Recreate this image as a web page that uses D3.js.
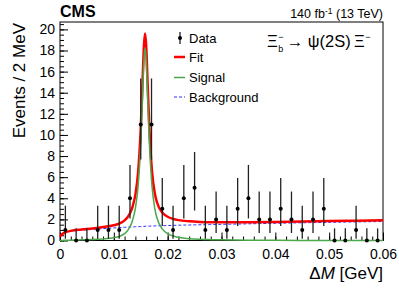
<!DOCTYPE html>
<html lang="en">
<head>
  <meta charset="UTF-8">
  <title>Xi_b to psi(2S) Xi mass difference</title>
  <script src="https://d3js.org/d3.v7.min.js"></script>
  <style>
    body { margin: 0; background: #fff; }
    text { font-family: "Liberation Sans", Arial, sans-serif; fill: #000; }
  </style>
</head>
<body>
  <div id="chart"></div>
  <script type="text/javascript">
    // data points: 2 MeV bins, counts with asymmetric poisson errors
    var binCenters = [0.001, 0.003, 0.005, 0.007, 0.009, 0.011, 0.013, 0.015, 0.017, 0.019,
                      0.021, 0.023, 0.025, 0.027, 0.029, 0.031, 0.033, 0.035, 0.037, 0.039,
                      0.041, 0.043, 0.045, 0.047, 0.049, 0.051, 0.053, 0.055, 0.057, 0.059];
    var counts = [1, 0, 0, 1, 1, 1, 4, 11, 11, 3,
                  1, 4, 5, 1, 2, 1, 3, 4, 2, 2,
                  3, 2, 1, 2, 3, 0, 0, 1, 0, 0];
    var errLo = [0.83, 0, 0, 0.83, 0.83, 0.83, 1.91, 3.33, 3.33, 1.63,
                 0.83, 1.91, 2.16, 0.83, 1.29, 0.83, 1.63, 1.91, 1.29, 1.29,
                 1.63, 1.29, 0.83, 1.29, 1.63, 0, 0, 0.83, 0, 0];
    var errHi = [2.30, 1.15, 1.15, 2.30, 2.30, 2.30, 3.16, 4.35, 4.35, 2.92,
                 2.30, 3.16, 3.38, 2.30, 2.64, 2.30, 2.92, 3.16, 2.64, 2.64,
                 2.92, 2.64, 2.30, 2.64, 2.92, 1.15, 1.15, 2.30, 1.15, 1.15];

    // fit curves
    var curveX = [0, 0.0005, 0.001, 0.002, 0.004, 0.006, 0.008, 0.010, 0.011, 0.012,
                  0.0125, 0.013, 0.0135, 0.014, 0.0145, 0.015, 0.0153, 0.0156, 0.0158, 0.016,
                  0.0163, 0.0166, 0.0171, 0.0176, 0.018, 0.019, 0.020, 0.021, 0.022, 0.024,
                  0.026, 0.028, 0.030, 0.035, 0.040, 0.045, 0.050, 0.055, 0.060];
    var signalY = [0, 0.01, 0.02, 0.03, 0.06, 0.09, 0.15, 0.26, 0.38, 0.65,
                   0.9, 1.3, 1.95, 3.05, 5.1, 9.3, 13.2, 17.2, 18.25, 17.2,
                   13.2, 9.3, 5.1, 3.05, 2.15, 1.1, 0.65, 0.42, 0.3, 0.17,
                   0.11, 0.08, 0.06, 0.03, 0.02, 0.01, 0.01, 0.01, 0.01];
    var backgroundY = [0.38, 0.62, 0.75, 0.88, 0.98, 1.05, 1.12, 1.19, 1.22, 1.25,
                       1.27, 1.28, 1.29, 1.30, 1.31, 1.32, 1.33, 1.34, 1.35, 1.35,
                       1.36, 1.36, 1.37, 1.38, 1.39, 1.40, 1.42, 1.43, 1.45, 1.47,
                       1.49, 1.51, 1.53, 1.58, 1.63, 1.68, 1.72, 1.76, 1.80];
    var fitY = [0.38, 0.63, 0.77, 0.91, 1.04, 1.14, 1.27, 1.45, 1.60, 1.90,
                2.17, 2.58, 3.24, 4.35, 6.41, 10.62, 14.53, 18.54, 19.6, 18.55,
                14.56, 10.66, 6.5, 4.5, 3.65, 2.65, 2.25, 2.05, 1.93, 1.82,
                1.76, 1.73, 1.72, 1.73, 1.76, 1.80, 1.84, 1.88, 1.92];

    var xTicks = [0, 0.01, 0.02, 0.03, 0.04, 0.05, 0.06];
    var yTicks = [0, 2, 4, 6, 8, 10, 12, 14, 16, 18, 20];

    var W = 399, H = 288;
    // frame edges in pixels ("top" is taken by window.top, so prefixed names)
    var padL = 60, padR = 383, padT = 22, padB = 240.5;

    var svg = d3.select("#chart").append("svg")
      .attr("width", W)
      .attr("height", H);

    var x = d3.scaleLinear().domain([0, 0.06]).range([padL, padR]);
    var y = d3.scaleLinear().domain([0, 20.7]).range([padB, padT]);

    // axes with inward ticks, minor ticks drawn separately
    var xMinor = d3.range(0, 0.0601, 0.002);
    var yMinor = d3.range(0, 20.7, 0.5);

    svg.append("g")
      .attr("transform", "translate(0," + padB + ")")
      .call(d3.axisBottom(x).tickValues(xMinor).tickSize(-4).tickFormat(""))
      .call(function (g) { g.select(".domain").remove(); });
    svg.append("g")
      .attr("transform", "translate(0," + padB + ")")
      .call(d3.axisBottom(x).tickValues(xTicks).tickSize(-8).tickPadding(18)
        .tickFormat(function (d) { return d === 0 ? "0" : d3.format(".2f")(d); }))
      .call(function (g) {
        g.select(".domain").remove();
        g.selectAll("text").style("font-size", "14px").attr("dy", "0");
      });

    svg.append("g")
      .attr("transform", "translate(" + padL + ",0)")
      .call(d3.axisLeft(y).tickValues(yMinor).tickSize(-4).tickFormat(""))
      .call(function (g) { g.select(".domain").remove(); });
    svg.append("g")
      .attr("transform", "translate(" + padL + ",0)")
      .call(d3.axisLeft(y).tickValues(yTicks).tickSize(-8).tickPadding(5))
      .call(function (g) {
        g.select(".domain").remove();
        g.selectAll("text").style("font-size", "14px");
      });

    svg.selectAll(".tick line").attr("stroke", "#000");

    // frame
    svg.append("rect")
      .attr("x", padL).attr("y", padT)
      .attr("width", padR - padL).attr("height", padB - padT)
      .attr("fill", "none").attr("stroke", "#000").attr("stroke-width", 1);

    var plot = svg.append("g");

    function makeLine(vals) {
      return d3.line()
        .x(function (d, i) { return x(curveX[i]); })
        .y(function (d) { return y(d); })
        .curve(d3.curveMonotoneX)(vals);
    }

    plot.append("path")
      .attr("d", makeLine(backgroundY))
      .attr("fill", "none").attr("stroke", "#3030ff")
      .attr("stroke-width", 1).attr("stroke-dasharray", "3,2");

    plot.append("path")
      .attr("d", makeLine(fitY))
      .attr("fill", "none").attr("stroke", "#ff0000").attr("stroke-width", 2.5);

    plot.append("path")
      .attr("d", makeLine(signalY))
      .attr("fill", "none").attr("stroke", "#4aa84a").attr("stroke-width", 1.5);

    // data with error bars
    var pts = plot.selectAll(".pt").data(counts).enter().append("g");
    pts.append("line")
      .attr("x1", function (d, i) { return x(binCenters[i]); })
      .attr("x2", function (d, i) { return x(binCenters[i]); })
      .attr("y1", function (d, i) { return y(d - errLo[i]); })
      .attr("y2", function (d, i) { return y(d + errHi[i]); })
      .attr("stroke", "#222").attr("stroke-width", 1.3);
    pts.append("circle")
      .attr("cx", function (d, i) { return x(binCenters[i]); })
      .attr("cy", function (d) { return y(d); })
      .attr("r", 2).attr("fill", "#000");

    // legend
    var lx1 = 174, lx2 = 185, tx = 189;
    svg.append("line").attr("x1", 180).attr("x2", 180).attr("y1", 32).attr("y2", 44)
      .attr("stroke", "#222").attr("stroke-width", 1.3);
    svg.append("circle").attr("cx", 180).attr("cy", 38).attr("r", 2).attr("fill", "#000");
    svg.append("line").attr("x1", lx1).attr("x2", lx2).attr("y1", 57).attr("y2", 57)
      .attr("stroke", "#ff0000").attr("stroke-width", 2.5);
    svg.append("line").attr("x1", lx1).attr("x2", lx2).attr("y1", 77.5).attr("y2", 77.5)
      .attr("stroke", "#4aa84a").attr("stroke-width", 1.5);
    svg.append("line").attr("x1", lx1).attr("x2", lx2).attr("y1", 97).attr("y2", 97)
      .attr("stroke", "#3030ff").attr("stroke-width", 1).attr("stroke-dasharray", "3,2");

    svg.selectAll(".legtext")
      .data([["Data", 42.5], ["Fit", 61.5], ["Signal", 82], ["Background", 101.5]])
      .enter().append("text")
        .attr("x", tx).attr("y", function (d) { return d[1]; })
        .style("font-size", "13px")
        .text(function (d) { return d[0]; });

    // titles
    svg.append("text").attr("x", 60).attr("y", 17)
      .style("font-size", "16px").style("font-weight", "bold").text("CMS");

    var lumi = svg.append("text").attr("x", 383).attr("y", 18)
      .attr("text-anchor", "end").style("font-size", "12.5px");
    lumi.append("tspan").text("140 fb");
    lumi.append("tspan").attr("dy", -4).style("font-size", "8.5px").text("-1");
    lumi.append("tspan").attr("dy", 4).text(" (13 TeV)");

    var xt = svg.append("text").attr("x", 383).attr("y", 279)
      .attr("text-anchor", "end").style("font-size", "17px");
    xt.append("tspan").text("\u0394");
    xt.append("tspan").style("font-style", "italic").text("M");
    xt.append("tspan").text(" [GeV]");

    svg.append("text")
      .attr("transform", "translate(25,23) rotate(-90)")
      .attr("text-anchor", "end").style("font-size", "17px")
      .text("Events / 2 MeV");

    // decay formula, built piece by piece for the stacked sub/superscript
    var f = svg.append("g").attr("transform", "translate(267,47)");
    var xi1 = f.append("text").style("font-size", "16.5px").text("\u039E");
    var w1 = xi1.node().getComputedTextLength();
    f.append("text").attr("x", w1 + 0.5).attr("y", -7).style("font-size", "9px").text("\u2212");
    f.append("text").attr("x", w1 + 0.5).attr("y", 5).style("font-size", "9px").text("b");
    var rest = f.append("text").attr("x", w1 + 9).style("font-size", "16.5px")
      .text("\u2192 \u03C8(2S)\u2009\u039E");
    var w2 = rest.node().getComputedTextLength();
    f.append("text").attr("x", w1 + 9 + w2 + 0.5).attr("y", -7).style("font-size", "9px").text("\u2212");
  </script>
</body>
</html>
